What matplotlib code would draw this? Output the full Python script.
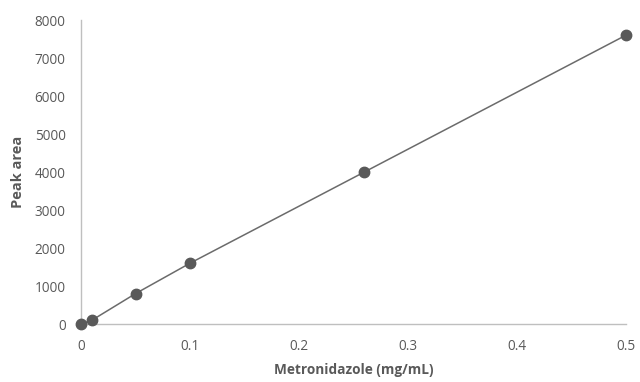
import matplotlib
matplotlib.use("Agg")
import matplotlib.pyplot as plt

# concentración (mg/mL) vs área de pico
conc = [0, 0.01, 0.05, 0.1, 0.26, 0.5]
area = [0, 100, 800, 1600, 4000, 7600]
xticks = [0, 0.1, 0.2, 0.3, 0.4, 0.5]
xlabels = ["0", "0.1", "0.2", "0.3", "0.4", "0.5"]
yticks = [0, 1000, 2000, 3000, 4000, 5000, 6000, 7000, 8000]

TXT = "#595959"; AX = "#bfbfbf"
plt.rcParams["font.family"] = ["Open Sans", "DejaVu Sans"]

fig = plt.figure(figsize=(6.4, 3.82), dpi=100)
ax = fig.add_axes([0.1266, 0.1518, 0.8514, 0.7958])
ax.plot(conc, area, color="#6b6b6b", lw=1.1, marker="o", ms=7.5,
        mfc="#595959", mec="#595959", zorder=3, clip_on=False)
ax.set_xlim(0, 0.5); ax.set_ylim(0, 8000)
ax.set_xticks(xticks, xlabels); ax.set_yticks(yticks)
for s in ("top", "right"): ax.spines[s].set_visible(False)
for s in ("left", "bottom"): ax.spines[s].set_color(AX); ax.spines[s].set_linewidth(1)
ax.tick_params(length=0, labelsize=9.8, colors=TXT)
ax.tick_params(axis="x", pad=11)
ax.tick_params(axis="y", pad=11)
ax.set_xlabel("Metronidazole (mg/mL)", fontsize=9.8, fontweight="bold", color=TXT, labelpad=6)
ax.set_ylabel("Peak area", fontsize=10.5, fontweight="bold", color=TXT, labelpad=7)
fig.savefig("out.png", dpi=100)
